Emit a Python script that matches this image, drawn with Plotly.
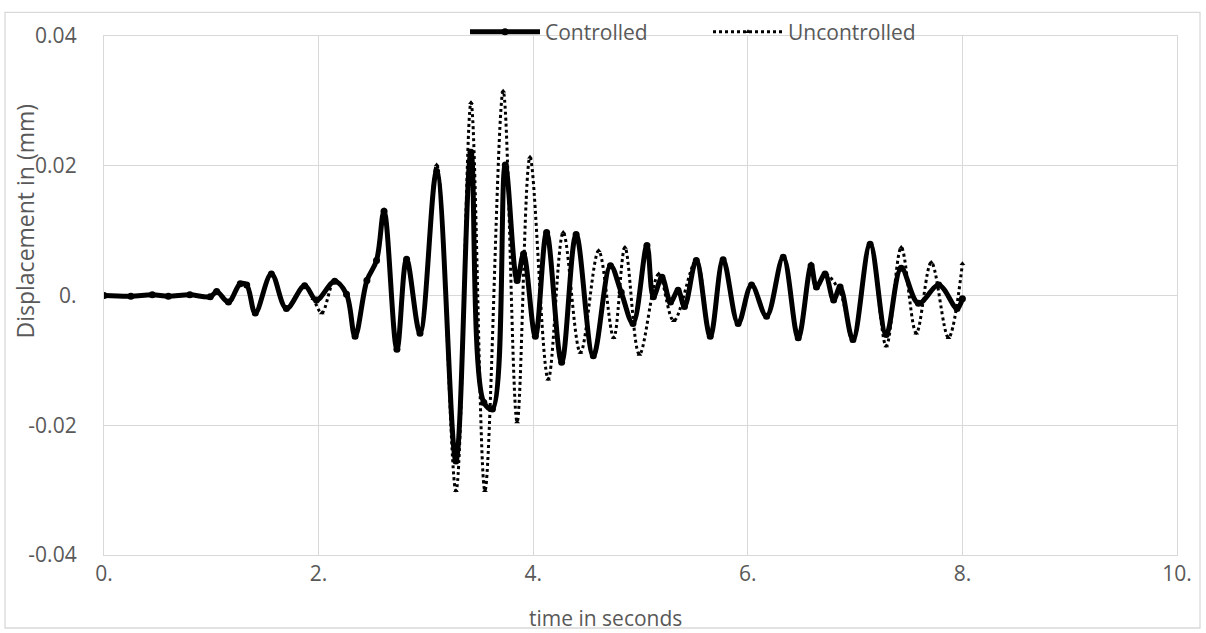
import plotly.graph_objects as go

# Controlled response (time in s, displacement in mm) - read at extrema
t_ctrl = [0.00, 0.25, 0.45, 0.60, 0.80, 0.99, 1.05, 1.16, 1.27, 1.33, 1.41, 1.56, 1.70, 1.87,
          1.98, 2.15, 2.26, 2.34, 2.45, 2.54, 2.61, 2.73, 2.82, 2.945, 3.10, 3.28, 3.42, 3.54,
          3.62, 3.74, 3.85, 3.91, 4.02, 4.125, 4.265, 4.40, 4.56, 4.72, 4.82, 4.93, 5.06, 5.12,
          5.20, 5.28, 5.35, 5.41, 5.52, 5.65, 5.77, 5.91, 6.035, 6.175, 6.33, 6.47, 6.59, 6.64,
          6.72, 6.80, 6.86, 6.98, 7.14, 7.29, 7.43, 7.59, 7.78, 7.95, 8.00]
d_ctrl = [0.0000, -0.0001, 0.0001, -0.0001, 0.0001, -0.0002, 0.0006, -0.0010, 0.0018, 0.0016,
          -0.0027, 0.0033, -0.0020, 0.0015, -0.0007, 0.0022, 0.0002, -0.0063, 0.0023, 0.0054,
          0.0130, -0.0083, 0.0056, -0.0058, 0.0191, -0.0255, 0.0221, -0.0165, -0.0175, 0.0201,
          0.0023, 0.0064, -0.0063, 0.0097, -0.0103, 0.0094, -0.0093, 0.0046, 0.0005, -0.0043,
          0.0077, -0.0002, 0.0028, -0.0010, 0.0008, -0.0017, 0.0054, -0.0063, 0.0055, -0.0043,
          0.0016, -0.0032, 0.0059, -0.0065, 0.0046, 0.0013, 0.0033, -0.0007, 0.0013, -0.0068,
          0.0079, -0.0060, 0.0042, -0.0012, 0.0016, -0.0020, -0.0005]

# Uncontrolled response
t_unc = [0.00, 0.25, 0.45, 0.60, 0.80, 0.99, 1.05, 1.16, 1.27, 1.33, 1.41, 1.56, 1.70, 1.87,
         1.95, 2.03, 2.15, 2.26, 2.34, 2.45, 2.54, 2.61, 2.73, 2.82, 2.945, 3.10, 3.28, 3.42,
         3.55, 3.72, 3.85, 3.97, 4.14, 4.28, 4.44, 4.61, 4.75, 4.855, 4.99, 5.17, 5.31, 5.52,
         5.65, 5.77, 5.91, 6.035, 6.175, 6.33, 6.47, 6.59, 6.64, 6.72, 6.86, 6.98, 7.14, 7.29,
         7.43, 7.57, 7.71, 7.87, 8.00]
d_unc = [0.0000, -0.0001, 0.0001, -0.0001, 0.0001, -0.0002, 0.0006, -0.0010, 0.0018, 0.0016,
         -0.0028, 0.0033, -0.0020, 0.0016, -0.0005, -0.0027, 0.0023, 0.0000, -0.0065, 0.0023,
         0.0054, 0.0132, -0.0083, 0.0056, -0.0058, 0.0201, -0.0301, 0.0297, -0.0301, 0.0315,
         -0.0195, 0.0213, -0.0129, 0.0097, -0.0088, 0.0069, -0.0065, 0.0074, -0.0091, 0.0033,
         -0.0039, 0.0054, -0.0065, 0.0056, -0.0045, 0.0016, -0.0034, 0.0059, -0.0067, 0.0049,
         0.0013, 0.0033, 0.0005, -0.0070, 0.0079, -0.0078, 0.0074, -0.0058, 0.0051, -0.0065,
         0.0049]

y_ticks = [-0.04, -0.02, 0.0, 0.02, 0.04]
y_labels = ["-0.04", "-0.02", "0.", "0.02", "0.04"]
x_ticks = [0, 2, 4, 6, 8, 10]
x_labels = ["0.", "2.", "4.", "6.", "8.", "10."]

FONT = "Open Sans"
GRAY = "#595959"
GRID = "#d9d9d9"
FS = 21

fig = go.Figure()
fig.add_trace(go.Scatter(
    x=t_ctrl, y=d_ctrl, name="Controlled", mode="lines+markers",
    line=dict(color="black", width=5, shape="spline", smoothing=1.0),
    marker=dict(symbol="circle", size=7, color="black"),
))
fig.add_trace(go.Scatter(
    x=t_unc, y=d_unc, name="Uncontrolled", mode="lines+markers",
    line=dict(color="black", width=3, dash="dot", shape="spline", smoothing=1.0),
    marker=dict(symbol="triangle-up", size=5, color="black"),
))

W, H = 1206, 633
L, R, T, B = 104, 29, 29, 78
pw, ph = W - L - R, H - T - B

def px(x):
    return (x - L) / pw

def py(y):
    return (H - B - y) / ph

fig.update_layout(
    width=W, height=H,
    margin=dict(l=L, r=R, t=T, b=B),
    paper_bgcolor="white", plot_bgcolor="white",
    font=dict(family=FONT, size=FS, color=GRAY),
    showlegend=True,
    legend=dict(orientation="h", x=px(465), y=py(25), xanchor="left", yanchor="middle",
                bgcolor="rgba(0,0,0,0)", font=dict(size=FS, color=GRAY),
                itemwidth=70, entrywidth=158, entrywidthmode="pixels"),
    xaxis=dict(range=[0, 10], tickvals=x_ticks, ticktext=x_labels,
               showgrid=True, gridcolor=GRID, gridwidth=1.3, zeroline=False,
               showline=True, mirror=True, linecolor=GRID, linewidth=1.3,
               ticks="", tickfont=dict(size=FS, color=GRAY)),
    yaxis=dict(range=[-0.04, 0.04], tickvals=y_ticks, ticktext=y_labels,
               showgrid=True, gridcolor=GRID, gridwidth=1.3, zeroline=False,
               showline=True, mirror=True, linecolor=GRID, linewidth=1.3,
               ticks="", ticklabelstandoff=22, tickfont=dict(size=FS, color=GRAY)),
    annotations=[
        dict(text="Displacement in (mm)", x=px(25), y=py(217), xref="paper", yref="paper",
             showarrow=False, textangle=-90, font=dict(size=23, color=GRAY),
             xanchor="center", yanchor="middle"),
        dict(text="time in seconds", x=px(605), y=py(619), xref="paper", yref="paper",
             showarrow=False, font=dict(size=FS, color=GRAY),
             xanchor="center", yanchor="middle"),
    ],
    shapes=[
        dict(type="rect", xref="paper", yref="paper",
             x0=px(5), x1=px(1200), y0=py(629), y1=py(5),
             line=dict(color=GRID, width=1.3), fillcolor="rgba(0,0,0,0)", layer="below"),
    ],
)

fig.write_html("out.html", config={"displayModeBar": False},
               post_script="document.body.style.margin='0';")
